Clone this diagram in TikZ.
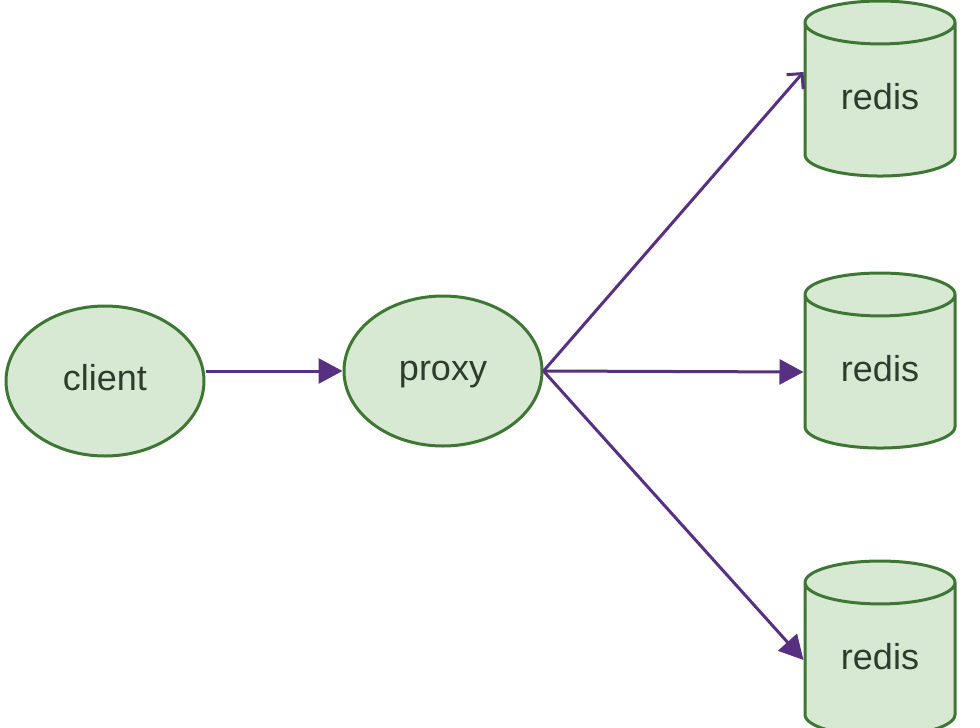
\documentclass[tikz,border=0pt]{standalone}
\usepackage{fontspec}
\setmainfont{Liberation Sans}
\usetikzlibrary{positioning,arrows.meta,shapes.geometric}
\definecolor{NodeGreen}{RGB}{62,118,52}
\definecolor{FillGreen}{RGB}{215,232,211}
\definecolor{LinkPurple}{RGB}{88,48,130}
\definecolor{LabelGrey}{RGB}{46,60,46}
\tikzset{
  link/.style={-{Triangle[length=24pt,width=25pt]},line width=3pt,draw=LinkPurple},
  openlink/.style={-{Straight Barb[length=11pt,width=22pt,line width=3pt]},line width=3pt,draw=LinkPurple},
  endpoint/.style={ellipse,draw=NodeGreen,fill=FillGreen,line width=3pt,
    minimum width=198pt,minimum height=150pt,inner sep=0pt,text height=26pt,text depth=8pt,
    font=\fontsize{36}{42}\selectfont,text=LabelGrey},
  store/.style={cylinder,shape border rotate=90,aspect=0.55,draw=NodeGreen,fill=FillGreen,
    line width=3pt,minimum width=150pt,minimum height=175pt,inner sep=0pt,text height=26pt,text depth=8pt,
    font=\fontsize{36}{42}\selectfont,text=LabelGrey}
}
\begin{document}
\begin{tikzpicture}[x=1pt,y=1pt]
  \useasboundingbox (0,0) rectangle (980,-728);
  \node[endpoint] (client) at (105,-381) {client};
  \node[endpoint] (proxy) at (443,-371) {proxy};
  \node[store] (redis1) at (880,-100) {redis};
  \node[store,below=272pt of redis1.center,anchor=center] (redis2) {redis};
  \node[store,below=288pt of redis2.center,anchor=center] (redis3) {redis};
  \draw[link] (client.east |- proxy.west) -- (proxy.west);
  \draw[openlink] (proxy.east) -- ([yshift=28pt]redis1.west);
  \draw[link] (proxy.east) -- (redis2.west);
  \draw[link] (proxy.east) -- (redis3.west);
\end{tikzpicture}
\end{document}
